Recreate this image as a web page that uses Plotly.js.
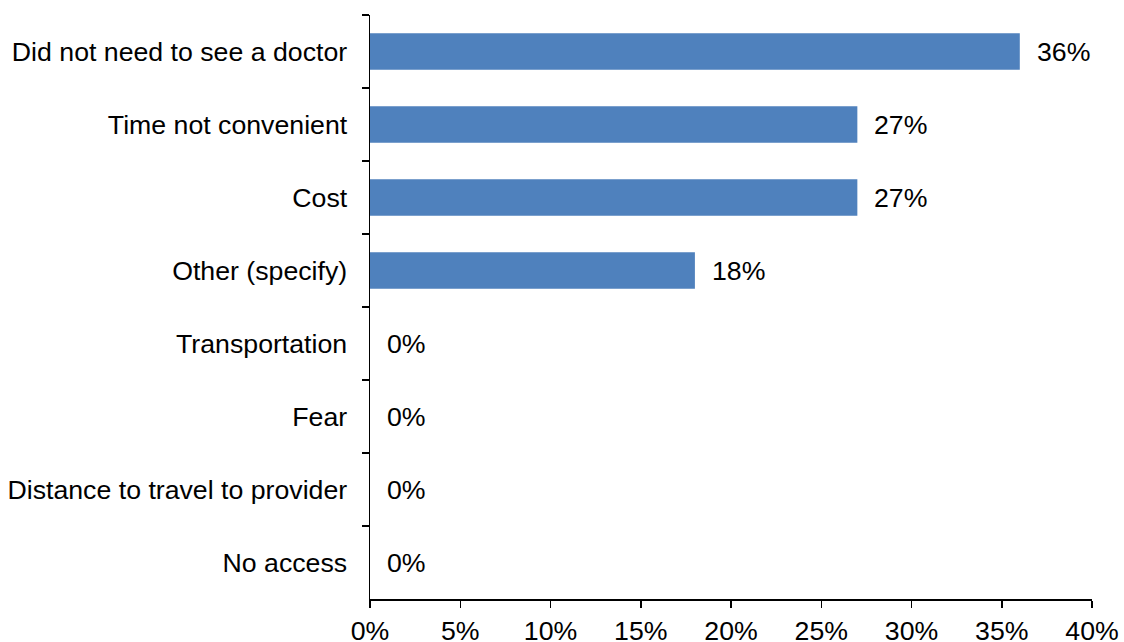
<!DOCTYPE html>
<html>
<head>
<meta charset="utf-8">
<script src="https://cdn.plot.ly/plotly-3.0.1.min.js"></script>
<style>html,body{margin:0;padding:0;background:#fff;}#chart{width:1124px;height:642px;}</style>
</head>
<body>
<div id="chart"></div>
<script>
const categories = ["Did not need to see a doctor","Time not convenient","Cost","Other (specify)","Transportation","Fear","Distance to travel to provider","No access"];
const values = [36, 27, 27, 18, 0, 0, 0, 0];
const xTicks = [0, 5, 10, 15, 20, 25, 30, 35, 40];

const font = {family: "Liberation Sans, Arial, sans-serif", size: 26.7, color: "#000"};

const trace = {
  type: "bar",
  orientation: "h",
  x: values,
  y: categories,
  marker: {color: "#4F81BD"},
  width: 0.5,
  hoverinfo: "skip"
};

const annotations = values.map((v, i) => ({
  x: v, y: categories[i], xref: "x", yref: "y",
  text: v + "%", showarrow: false, xanchor: "left", yanchor: "middle",
  xshift: 15, font: font
}));

const layout = {
  width: 1124, height: 642,
  margin: {l: 370, r: 32, t: 15, b: 43},
  paper_bgcolor: "#fff", plot_bgcolor: "#fff",
  showlegend: false,
  font: font,
  bargap: 0.5,
  xaxis: {
    range: [0, 40], tickvals: xTicks, ticktext: xTicks.map(t => t + "%"),
    showgrid: false, zeroline: false, showline: true, linecolor: "#000", linewidth: 1.5,
    ticks: "outside", ticklen: 7, tickcolor: "#000", tickwidth: 1.5,
    tickfont: font, fixedrange: true
  },
  yaxis: {
    type: "category", autorange: "reversed",
    showgrid: false, zeroline: false, showline: true, linecolor: "#000", linewidth: 1.5,
    ticks: "outside", tickson: "boundaries", ticklen: 7, tickcolor: "#000", tickwidth: 1.5,
    ticklabelstandoff: 16,
    tickfont: font, fixedrange: true
  },
  annotations: annotations
};

Plotly.newPlot("chart", [trace], layout, {displayModeBar: false, staticPlot: true});
</script>
</body>
</html>
